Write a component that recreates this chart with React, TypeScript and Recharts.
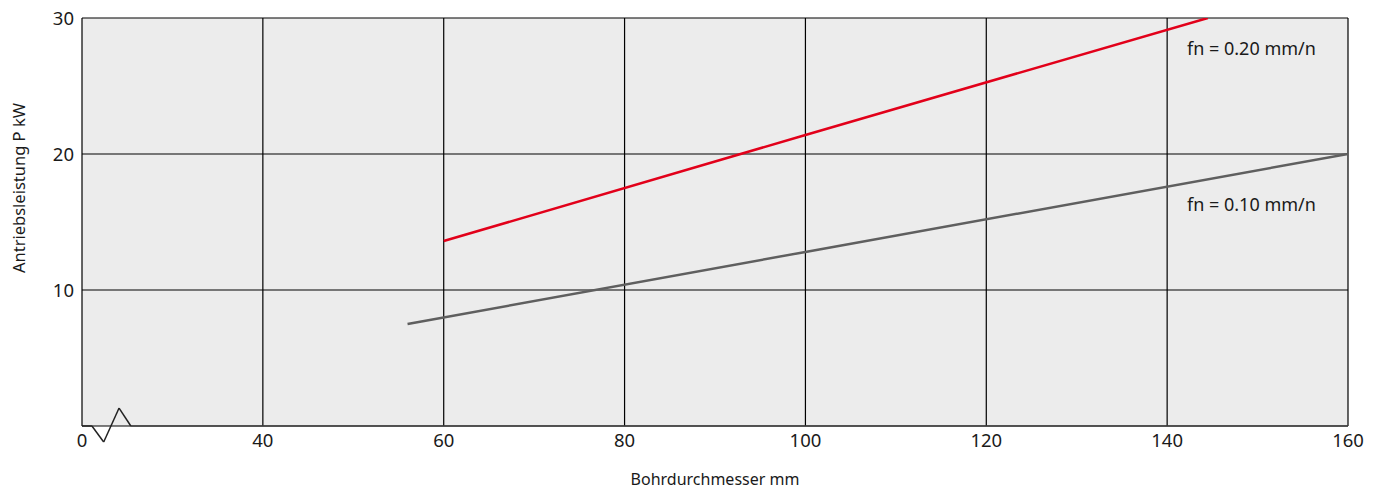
import {
  CartesianGrid,
  Line,
  LineChart,
  ReferenceDot,
  ReferenceLine,
  XAxis,
  YAxis,
} from "recharts";

// Achse ist gebrochen: Position 20 trägt die Beschriftung "0"
const xTicks = [20, 40, 60, 80, 100, 120, 140, 160];
const yTicks = [10, 20, 30];

const feed020 = [
  { x: 60, p: 13.6 },
  { x: 100, p: 21.4 },
  { x: 144.5, p: 30 },
];
const feed010 = [
  { x: 56, p: 7.5 },
  { x: 100, p: 12.8 },
  { x: 160, p: 20 },
];

const labels = [
  { x: 142.2, p: 27.8, text: "fn = 0.20 mm/n" },
  { x: 142.2, p: 16.3, text: "fn = 0.10 mm/n" },
];

// Bruchzeichen am Nullpunkt der x-Achse
const breakMark = [
  { x: 20, p: 0 },
  { x: 21.1, p: 0 },
  { x: 22.4, p: -1.18 },
  { x: 24.1, p: 1.32 },
  { x: 25.4, p: 0 },
];

const font = "'Noto Sans', sans-serif";
const ink = "#1a1a1a";

export default function App() {
  const segs = breakMark.slice(1).map((pt, i) => [breakMark[i], pt]);
  return (
    <div style={{ position: "absolute", left: 0, top: 0, fontFamily: font }}>
      <LineChart
        width={1373}
        height={491}
        margin={{ top: 18, right: 25, left: 0, bottom: 0 }}
      >
        <CartesianGrid fill="#ececec" stroke="#000" strokeWidth={1.2} />
        <XAxis
          type="number"
          dataKey="x"
          domain={[20, 160]}
          ticks={xTicks}
          tickFormatter={(v) => (v === 20 ? "0" : String(v))}
          axisLine={false}
          tickLine={false}
          tick={{ fill: ink, fontSize: 18.5 }}
          height={65}
          allowDataOverflow
          label={{
            value: "Bohrdurchmesser mm",
            position: "insideBottom",
            offset: 6,
            fill: ink,
            fontSize: 16,
          }}
        />
        <YAxis
          type="number"
          domain={[0, 30]}
          ticks={yTicks}
          axisLine={false}
          tickLine={false}
          tick={{ fill: ink, fontSize: 18.5 }}
          width={82}
          allowDataOverflow
          label={{
            content: () => (
              <text
                transform="translate(18,188) rotate(-90)"
                textAnchor="middle"
                dominantBaseline="central"
                fill={ink}
                fontSize={16.5}
              >
                Antriebsleistung P kW
              </text>
            ),
          }}
        />
        <ReferenceLine
          segment={[
            { x: 25.4, y: 0 },
            { x: 160, y: 0 },
          ]}
          stroke="#444"
          strokeWidth={1.5}
          ifOverflow="visible"
        />
        {segs.map(([a, b], i) => (
          <ReferenceLine
            key={i}
            segment={[
              { x: a.x, y: a.p },
              { x: b.x, y: b.p },
            ]}
            stroke="#222"
            strokeWidth={1.5}
            ifOverflow="visible"
          />
        ))}
        <Line
          data={feed010}
          dataKey="p"
          stroke="#5f5f5f"
          strokeWidth={2.5}
          dot={false}
          isAnimationActive={false}
        />
        <Line
          data={feed020}
          dataKey="p"
          stroke="#e2001a"
          strokeWidth={2.5}
          dot={false}
          isAnimationActive={false}
        />
        {labels.map((l) => (
          <ReferenceDot
            key={l.text}
            x={l.x}
            y={l.p}
            r={0}
            stroke="none"
            fill="none"
            label={{
              content: (props: any) => (
                <text
                  x={props.viewBox?.x ?? props.x}
                  y={props.viewBox?.y ?? props.y}
                  textAnchor="start"
                  dominantBaseline="central"
                  fill={ink}
                  fontSize={18}
                >
                  {l.text}
                </text>
              ),
            }}
          />
        ))}
      </LineChart>
    </div>
  );
}
